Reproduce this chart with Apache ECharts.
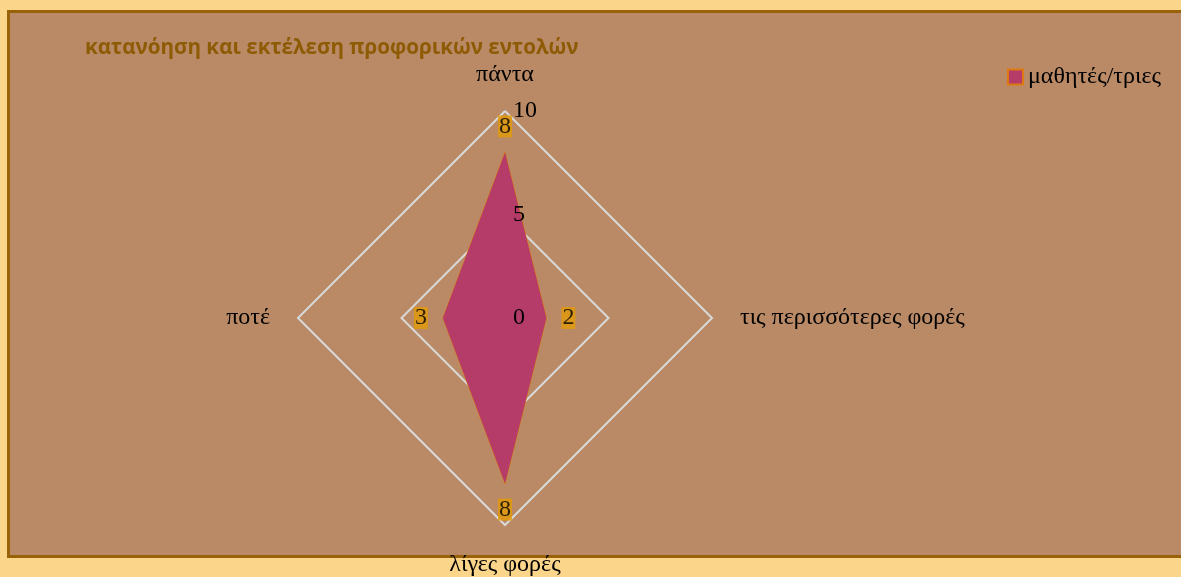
<!DOCTYPE html>
<html><head><meta charset="utf-8">
<script src="https://cdn.jsdelivr.net/npm/echarts@6/dist/echarts.min.js"></script>
<style>html,body{margin:0;padding:0;background:#FBD58A;}#c{width:1181px;height:577px;}</style>
</head><body><div id="c"></div>
<script>
const titleText = 'κατανόηση και εκτέλεση προφορικών εντολών';
const seriesName = 'μαθητές/τριες';
// Excel (clockwise) order starting from top
const categories = ['πάντα', 'τις περισσότερες φορές', 'λίγες φορές', 'ποτέ'];
const values = [8, 2, 8, 3];
const axisMax = 10;
const tickInterval = 5;

const center = [505, 318];
const radius = 207;
const serif = '"Liberation Serif", "DejaVu Serif", serif';

// ECharts radar goes counter-clockwise; reorder to get a clockwise layout
const n = categories.length;
const ccwOrder = [0].concat(Array.from({length: n - 1}, (_, i) => n - 1 - i));
const indicator = ccwOrder.map(i => ({ name: categories[i], max: axisMax, min: 0 }));
const radarValues = ccwOrder.map(i => values[i]);

const labelPos = ['top', 'right', 'bottom', 'left'];
const labelData = values.map((v, i) => ({
  value: [v, i],
  label: { position: labelPos[i] }
}));

const chart = echarts.init(document.getElementById('c'), null, { renderer: 'canvas' });
chart.setOption({
  backgroundColor: '#FBD58A',
  animation: false,
  graphic: [{
    type: 'rect', z: -10, silent: true,
    shape: { x: 8.5, y: 11.5, width: 1200, height: 545 },
    style: { fill: '#B98A65', stroke: '#9A6208', lineWidth: 3 }
  }],
  title: {
    text: titleText, left: 80, top: 33,
    textStyle: { fontFamily: '"Open Sans", "Noto Sans", sans-serif', fontWeight: 'bold', fontSize: 20.6, color: '#8E5B05' }
  },
  legend: {
    right: 15, top: 60, itemWidth: 15, itemHeight: 15, itemGap: 8,
    icon: 'rect',
    textStyle: { fontFamily: serif, fontSize: 24, color: '#000' },
    data: [seriesName]
  },
  radar: {
    center: center, radius: radius, startAngle: 90, splitNumber: 2,
    shape: 'polygon',
    axisName: { color: '#000', fontFamily: serif, fontSize: 24, padding: [0, 0, -4, 0] },
    nameGap: 28,
    splitLine: { lineStyle: { color: '#D9D9D9', width: 2 } },
    splitArea: { show: false },
    axisLine: { show: false },
    axisTick: { show: false },
    axisLabel: { show: false },
    indicator: indicator
  },
  polar: { center: center, radius: radius },
  angleAxis: { type: 'value', min: 0, max: n, startAngle: 90, clockwise: true, show: false },
  radiusAxis: {
    type: 'value', min: 0, max: axisMax, interval: tickInterval, z: 10,
    axisLine: { show: false }, axisTick: { show: false }, splitLine: { show: false },
    axisLabel: { show: true, color: '#000', fontFamily: serif, fontSize: 24, margin: -8, align: 'left' }
  },
  series: [{
    type: 'radar', name: seriesName, z: 2,
    symbol: 'none',
    lineStyle: { color: '#E07A10', width: 1 },
    itemStyle: { color: '#B53B69', borderColor: '#E07A10', borderWidth: 1 },
    areaStyle: { color: '#B53B69', opacity: 1 },
    data: [{ value: radarValues, name: seriesName }]
  }, {
    type: 'scatter', coordinateSystem: 'polar', z: 5,
    symbolSize: 0, silent: true,
    label: {
      show: true, distance: 15,
      formatter: p => String(p.value[0]),
      fontFamily: serif, fontSize: 24, color: '#000',
      backgroundColor: '#E39A06', padding: [0, 1, 0, 1], lineHeight: 22
    },
    data: labelData
  }]
});
</script></body></html>
